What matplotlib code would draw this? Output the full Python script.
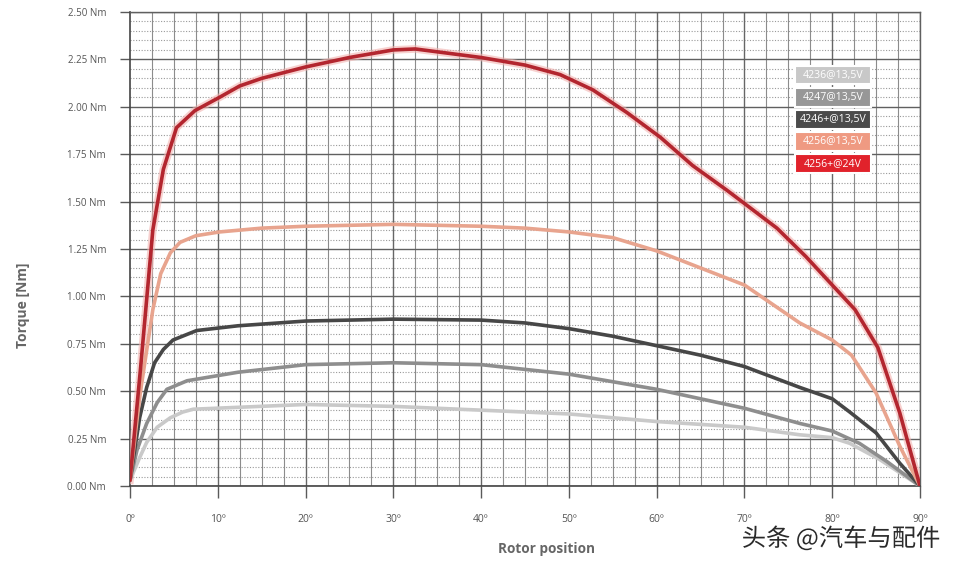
import matplotlib
matplotlib.use('Agg')
import matplotlib.pyplot as plt
from matplotlib.patches import Rectangle
import matplotlib.patheffects as pe

# Torque curves (angle in degrees, torque in Nm)
ang_4236 = [0, 1.1, 1.9, 3.1, 4.6, 6.0, 7.2, 12.3, 20, 30, 40, 50, 60, 70, 76.3, 80, 82, 85.4, 87.7, 90]
trq_4236 = [0.03, 0.15, 0.23, 0.31, 0.36, 0.39, 0.405, 0.415, 0.43, 0.42, 0.40, 0.38, 0.34, 0.31, 0.27, 0.255, 0.225,
            0.14, 0.07, 0.0]

ang_4247 = [0, 0.8, 1.9, 3.1, 4.2, 6.5, 12.3, 20, 30, 40, 50, 60, 70, 76.3, 80, 83.1, 86.2, 90]
trq_4247 = [0.03, 0.19, 0.33, 0.44, 0.51, 0.555, 0.60, 0.64, 0.65, 0.64, 0.59, 0.51, 0.41, 0.33, 0.29, 0.225, 0.13, 0.0]

ang_4246p = [0, 1.1, 1.9, 2.8, 3.8, 4.9, 7.6, 12.3, 20, 30, 40, 45, 50, 55, 60, 65, 70, 76.3, 80, 82, 85, 87.7, 90]
trq_4246p = [0.03, 0.36, 0.52, 0.65, 0.72, 0.77, 0.82, 0.845, 0.87, 0.88, 0.875, 0.86, 0.83, 0.79, 0.74, 0.69, 0.63,
             0.52, 0.46, 0.39, 0.28, 0.12, 0.0]

ang_4256 = [0, 1.1, 2.6, 3.5, 4.6, 5.7, 7.5, 10.2, 15, 20, 30, 40, 45, 50, 55, 60, 65, 70, 76.3, 80, 82.2, 85,
            87.7, 90]
trq_4256 = [0.03, 0.47, 0.93, 1.12, 1.23, 1.285, 1.32, 1.34, 1.36, 1.37, 1.38, 1.37, 1.36, 1.34, 1.31, 1.24, 1.15,
            1.06, 0.86, 0.77, 0.69, 0.49, 0.21, 0.0]

ang_4256p = [0, 1.2, 2.6, 3.8, 5.3, 7.4, 10.2, 12.5, 15, 20, 25, 30, 32.5, 35, 40, 45, 49, 52.7, 56.6,
             60.4, 64.1, 68, 70, 73.7, 77, 79.4, 82.6, 85.2, 87.7, 90]
trq_4256p = [0.03, 0.62, 1.35, 1.67, 1.89, 1.98, 2.05, 2.11, 2.15, 2.21, 2.26, 2.30, 2.305, 2.29, 2.26, 2.22,
             2.17, 2.09, 1.97, 1.84, 1.69, 1.56, 1.49, 1.36, 1.21, 1.09, 0.93, 0.73, 0.385, 0.0]

labels = ['4236@13,5V', '4247@13,5V', '4246+@13,5V', '4256@13,5V', '4256+@24V']
line_colors = ['#c9c9c9', '#8e8e8e', '#474747', '#e8a48e', '#b3262f']
legend_colors = ['#c8c8c8', '#979797', '#4b4b4b', '#ef9a82', '#e1222b']

y_ticks = [0, 0.25, 0.5, 0.75, 1.0, 1.25, 1.5, 1.75, 2.0, 2.25, 2.5]
x_ticks = [0, 10, 20, 30, 40, 50, 60, 70, 80, 90]

fig = plt.figure(figsize=(9.58, 5.68), dpi=100)
ax = fig.add_axes([130 / 958, 82 / 568, 790 / 958, 474 / 568])
ax.set_xlim(0, 90)
ax.set_ylim(0, 2.5)

# grid: solid major horizontals, dotted minor horizontals, vertical every 2.5 deg
for v in range(1, 50):
    if v % 5:
        ax.axhline(v * 0.05, color='#9a9a9a', lw=0.8, ls=(0, (1, 1.5)), zorder=1)
for v in y_ticks:
    ax.axhline(v, color='#606060', lw=1.0, zorder=1.5)
for i in range(1, 37):
    ax.axvline(i * 2.5, color='#8c8c8c' if i % 4 else '#666666', lw=0.8 if i % 4 else 1.0, zorder=1)

series = [(ang_4236, trq_4236), (ang_4247, trq_4247), (ang_4246p, trq_4246p),
          (ang_4256, trq_4256), (ang_4256p, trq_4256p)]
for (a, t), c in zip(series, line_colors):
    if c == '#b3262f':
        ax.plot(a, t, color='#f3b3b0', lw=5.5, alpha=0.6, solid_joinstyle='round', zorder=3)
    ax.plot(a, t, color=c, lw=2.6, solid_joinstyle='round', solid_capstyle='round', zorder=4)

for s in ['top', 'right']:
    ax.spines[s].set_color('#606060')
    ax.spines[s].set_linewidth(1.0)
ax.spines['left'].set_color('#444444')
ax.spines['bottom'].set_color('#444444')
ax.spines['left'].set_linewidth(1.2)
ax.spines['bottom'].set_linewidth(1.2)

ax.set_yticks(y_ticks)
ax.set_yticklabels(['%.2f Nm' % v for v in y_ticks])
ax.set_xticks(x_ticks)
ax.set_xticklabels(['%dº' % v for v in x_ticks])
ax.tick_params(axis='y', length=7.2, width=1.0, color='#5a5a5a', pad=10,
               labelsize=7, labelcolor='#555555')
ax.tick_params(axis='x', length=8.6, width=1.0, color='#5a5a5a', pad=11.5,
               labelsize=7.5, labelcolor='#555555')
for lbl in ax.get_xticklabels() + ax.get_yticklabels():
    lbl.set_fontfamily('Open Sans')

fig.text(23 / 958, 1 - 305 / 568, 'Torque [Nm]', rotation=90, ha='center', va='center',
         fontsize=10, fontweight='bold', color='#666666', family='Open Sans')
fig.text(547 / 958, 1 - 549 / 568, 'Rotor position', ha='center', va='center',
         fontsize=9.8, fontweight='bold', color='#666666', family='Open Sans')

# legend boxes
for i, (lab, c) in enumerate(zip(labels, legend_colors)):
    top = 66 + i * 22
    fig.add_artist(Rectangle((795 / 958, 1 - (top + 18.5) / 568), 76 / 958, 18.5 / 568,
                             transform=fig.transFigure, facecolor=c, edgecolor='white',
                             lw=1.5, zorder=10))
    fig.text(833 / 958, 1 - (top + 9.5) / 568, lab, ha='center', va='center', fontsize=7.6,
             color='white', family='Open Sans', zorder=11)

fig.text(940 / 958, 1 - 539 / 568, '头条 @汽车与配件', ha='right', va='center', fontsize=17.5,
         color='#2a2a2a', family=['Noto Sans CJK SC', 'DejaVu Sans'],
         path_effects=[pe.withStroke(linewidth=2, foreground='white')])

fig.savefig('out.png', dpi=100)
